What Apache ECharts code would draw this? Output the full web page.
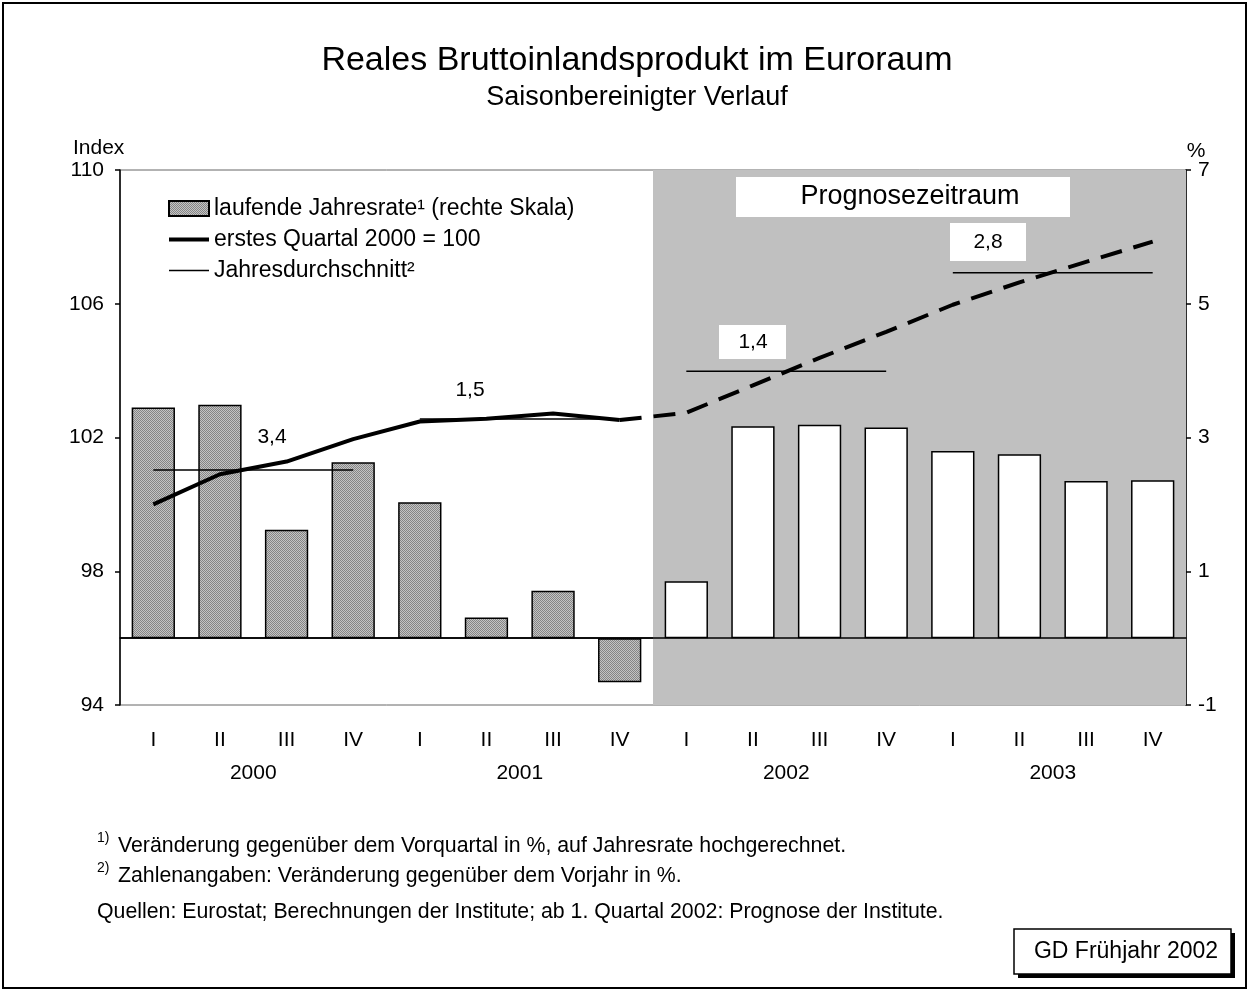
<!DOCTYPE html>
<html style="height: 100%">
<head>
<meta charset="utf-8">
<script src="https://cdn.jsdelivr.net/npm/echarts@6/dist/echarts.min.js"></script>
</head>
<body style="height: 100%; margin: 0; background: #fff">
<div id="main" style="width: 1250px; height: 992px"></div>
<script type="text/javascript">
var quarters = ['I', 'II', 'III', 'IV', 'I', 'II', 'III', 'IV', 'I', 'II', 'III', 'IV', 'I', 'II', 'III', 'IV'];
var years = ['2000', '2001', '2002', '2003'];
// laufende Jahresrate, % (rechte Skala)
var rate = [3.45, 3.49, 1.62, 2.63, 2.03, 0.31, 0.71, -0.66, 0.85, 3.17, 3.19, 3.15, 2.80, 2.75, 2.35, 2.36];
// Index, erstes Quartal 2000 = 100
var gdpIndex = [100.0, 100.9, 101.28, 101.95, 102.48, 102.56, 102.72, 102.52, 102.74, 103.56, 104.38, 105.16, 105.97, 106.64, 107.25, 107.86];
// Jahresdurchschnitt (Index) und Veränderung gegenüber Vorjahr
var yearAvg = [101.03, 102.55, 103.98, 106.93];
var yearGrowth = ['3,4', '1,5', '1,4', '2,8'];
var forecastFrom = 8;

var font = "'Liberation Sans', Arial, sans-serif";

// fein gepunktete Füllung der Ist-Balken
var pat = document.createElement('canvas');
pat.width = 2; pat.height = 2;
var pc = pat.getContext('2d');
pc.fillStyle = '#c4c4c4'; pc.fillRect(0, 0, 2, 2);
pc.fillStyle = '#858585'; pc.fillRect(0, 0, 1, 1); pc.fillRect(1, 1, 1, 1);
var dotted = { image: pat, repeat: 'repeat' };

var myChart = echarts.init(document.getElementById('main'));

var avgSeries = years.map(function (y, k) {
    return {
        type: 'line',
        name: 'Jahresdurchschnitt²',
        yAxisIndex: 0,
        symbol: 'none',
        z: 4,
        color: '#000',
        lineStyle: { color: '#000', width: 1.5 },
        data: quarters.map(function (q, i) { return Math.floor(i / 4) === k ? yearAvg[k] : null; })
    };
});

function txt(x, y, text, size, extra) {
    var st = { text: text, x: x, y: y, fill: '#000', font: size + 'px ' + font, align: 'center', verticalAlign: 'middle' };
    for (var key in extra) st[key] = extra[key];
    return { type: 'text', z: 50, style: st };
}
function box(x, y, w, h) {
    return { type: 'rect', z: 49, shape: { x: x, y: y, width: w, height: h }, style: { fill: '#fff' } };
}

myChart.setOption({
    backgroundColor: '#fff',
    animation: false,
    textStyle: { fontFamily: font, color: '#000' },
    title: {
        text: 'Reales Bruttoinlandsprodukt im Euroraum',
        subtext: 'Saisonbereinigter Verlauf',
        left: 632,
        textAlign: 'center',
        top: 39,
        itemGap: 6,
        textStyle: { fontSize: 34, fontWeight: 'normal', color: '#000', fontFamily: font },
        subtextStyle: { fontSize: 27, color: '#000', fontFamily: font }
    },
    legend: {
        orient: 'vertical',
        left: 168,
        top: 197,
        padding: 0,
        itemWidth: 40,
        itemHeight: 15,
        itemGap: 8,
        symbolKeepAspect: true,
        selectedMode: false,
        textStyle: { fontSize: 23, color: '#000', fontFamily: font },
        data: [
            { name: 'laufende Jahresrate¹ (rechte Skala)', icon: 'rect' },
            { name: 'erstes Quartal 2000 = 100', icon: 'path://M0,0 H40 V4 H0 Z' },
            { name: 'Jahresdurchschnitt²', icon: 'path://M0,0 H40 V1.5 H0 Z' }
        ]
    },
    grid: {
        left: 120, right: 64, top: 170, bottom: 287,
        show: true, borderColor: '#666', borderWidth: 1, backgroundColor: 'transparent'
    },
    xAxis: [
        {
            type: 'category',
            data: quarters,
            position: 'bottom',
            axisLine: { lineStyle: { color: '#000', width: 1.5 } },
            axisTick: { interval: 3, length: 8, lineStyle: { color: '#000', width: 1.5 } },
            axisLabel: { interval: 0, fontSize: 21, color: '#000', margin: 25, fontFamily: font }
        },
        {
            type: 'category',
            data: years,
            position: 'bottom',
            axisLine: { show: false },
            axisTick: { show: false },
            axisLabel: { fontSize: 21, color: '#000', margin: 58, fontFamily: font }
        },
        { type: 'value', min: 0, max: 16, show: false }
    ],
    yAxis: [
        {
            type: 'value', min: 94, max: 110, interval: 4,
            axisLine: { show: true, lineStyle: { color: '#000', width: 1.5 } },
            axisTick: { show: true, length: 5, lineStyle: { color: '#000', width: 1.5 } },
            axisLabel: { fontSize: 21, color: '#000', margin: 16, fontFamily: font },
            splitLine: { show: false }
        },
        {
            type: 'value', min: -1, max: 7, interval: 2,
            position: 'right',
            axisLine: { show: true, lineStyle: { color: '#000', width: 1.5 } },
            axisTick: { show: true, length: 5, lineStyle: { color: '#000', width: 1.5 } },
            axisLabel: { fontSize: 21, color: '#000', margin: 12, fontFamily: font },
            splitLine: { show: false }
        }
    ],
    series: [
        {
            // Prognosezeitraum hinterlegt
            type: 'line',
            name: 'prognose',
            xAxisIndex: 2,
            yAxisIndex: 0,
            symbol: 'none',
            z: 0,
            data: [[forecastFrom, 94]],
            markArea: {
                silent: true,
                itemStyle: { color: '#c0c0c0' },
                data: [[{ xAxis: forecastFrom }, { xAxis: 16 }]]
            }
        },
        {
            type: 'bar',
            name: 'laufende Jahresrate¹ (rechte Skala)',
            yAxisIndex: 1,
            barCategoryGap: '35%',
            z: 3,
            itemStyle: { color: dotted, borderColor: '#000', borderWidth: 1.5 },
            data: rate.map(function (v, i) {
                return i < forecastFrom ? v : { value: v, itemStyle: { color: '#fff', borderColor: '#000', borderWidth: 1.5 } };
            }),
            markLine: {
                silent: true,
                symbol: 'none',
                label: { show: false },
                lineStyle: { color: '#000', width: 1.5, type: 'solid' },
                data: [{ yAxis: 0 }]
            }
        },
        {
            type: 'line',
            name: 'erstes Quartal 2000 = 100',
            yAxisIndex: 0,
            symbol: 'none',
            z: 5,
            color: '#000',
            lineStyle: { color: '#000', width: 4 },
            data: gdpIndex.map(function (v, i) { return i < forecastFrom ? v : null; })
        },
        {
            type: 'line',
            name: 'prognoseverlauf',
            yAxisIndex: 0,
            symbol: 'none',
            z: 5,
            lineStyle: { color: '#000', width: 4, type: [22, 12] },
            data: gdpIndex.map(function (v, i) { return i >= forecastFrom - 1 ? v : null; })
        }
    ].concat(avgSeries),
    graphic: [
        { type: 'rect', z: 60, shape: { x: 3, y: 3, width: 1243, height: 985 }, style: { fill: 'none', stroke: '#000', lineWidth: 2 } },
        txt(73, 148, 'Index', 21, { align: 'left' }),
        txt(1196, 151, '%', 21),
        box(736, 177, 334, 40),
        txt(910, 197, 'Prognosezeitraum', 27),
        txt(272, 437, yearGrowth[0], 21),
        txt(470, 390, yearGrowth[1], 21),
        box(719, 325, 67, 34),
        txt(753, 342, yearGrowth[2], 21),
        box(950, 223, 76, 38),
        txt(988, 242, yearGrowth[3], 21),
        txt(97, 838, '1)', 14, { align: 'left' }),
        txt(118, 846, 'Veränderung gegenüber dem Vorquartal in %, auf Jahresrate hochgerechnet.', 21.3, { align: 'left' }),
        txt(97, 868, '2)', 14, { align: 'left' }),
        txt(118, 876, 'Zahlenangaben: Veränderung gegenüber dem Vorjahr in %.', 21.3, { align: 'left' }),
        txt(97, 912, 'Quellen: Eurostat; Berechnungen der Institute; ab 1. Quartal 2002: Prognose der Institute.', 21.3, { align: 'left' }),
        { type: 'rect', z: 48, shape: { x: 1018, y: 933, width: 217, height: 45 }, style: { fill: '#000' } },
        { type: 'rect', z: 49, shape: { x: 1014, y: 929, width: 217, height: 45 }, style: { fill: '#fff', stroke: '#000', lineWidth: 1.5 } },
        txt(1126, 952, 'GD Frühjahr 2002', 23)
    ]
});
</script>
</body>
</html>
